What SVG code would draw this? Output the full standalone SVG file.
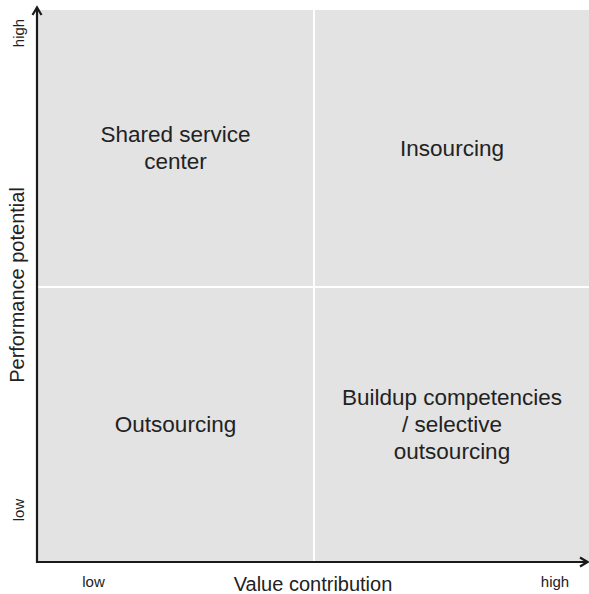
<svg xmlns="http://www.w3.org/2000/svg" width="589" height="594" viewBox="0 0 589 594">
<style>
.q{fill:#e2e3e2}
.t{font-family:"Liberation Sans",Arial,sans-serif;font-size:22.5px;fill:#222;text-anchor:middle}
.ax{font-family:"Liberation Sans",Arial,sans-serif;font-size:20px;fill:#222;text-anchor:middle}
.sm{font-family:"Liberation Sans",Arial,sans-serif;font-size:15px;fill:#222;text-anchor:middle}
.axis{stroke:#1a1a1a;stroke-width:2.2;fill:none}
</style>
<rect width="589" height="594" fill="#fff"/>
<g id="q-shared">
<rect class="q" x="38" y="10" width="275" height="276"/>
<text class="t" x="175.5" y="142">Shared service</text>
<text class="t" x="175.5" y="169">center</text>
</g>
<g id="q-insourcing">
<rect class="q" x="315" y="10" width="274" height="276"/>
<text class="t" x="452" y="156">Insourcing</text>
</g>
<g id="q-outsourcing">
<rect class="q" x="38" y="288" width="275" height="273"/>
<text class="t" x="175.5" y="432">Outsourcing</text>
</g>
<g id="q-buildup">
<rect class="q" x="315" y="288" width="274" height="273"/>
<text class="t" x="452" y="405">Buildup competencies</text>
<text class="t" x="452" y="432">/ selective</text>
<text class="t" x="452" y="459">outsourcing</text>
</g>
<g id="connectors">
<path class="axis" d="M37,563 L37,8"/>
<path class="axis" d="M32.5,15 L37,7.5 L41.5,15"/>
<path class="axis" d="M36,562 L587,562"/>
<path class="axis" d="M580,557.5 L587.5,562 L580,566.5"/>
</g>
<g id="labels">
<text class="ax" transform="translate(24,285) rotate(-90)">Performance potential</text>
<text class="ax" x="313" y="591">Value contribution</text>
<text class="sm" transform="translate(24,33) rotate(-90)">high</text>
<text class="sm" transform="translate(24,510) rotate(-90)">low</text>
<text class="sm" x="93.5" y="587">low</text>
<text class="sm" x="555" y="587">high</text>
</g>
</svg>
